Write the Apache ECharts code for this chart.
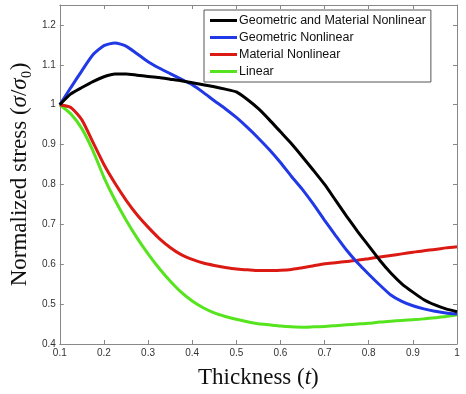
<!DOCTYPE html>
<html>
<head>
<meta charset="utf-8">
<script src="https://cdn.jsdelivr.net/npm/echarts@6/dist/echarts.min.js"></script>
<style>
  html, body { margin: 0; padding: 0; background: #fff; }
  #chart { width: 466px; height: 394px; }
</style>
</head>
<body>
<div id="chart"></div>
<script>
// thickness samples (x axis)
var thickness = [0.1, 0.125, 0.15, 0.175, 0.2, 0.225, 0.25, 0.275, 0.3, 0.325, 0.35, 0.375, 0.4,
  0.425, 0.45, 0.475, 0.5, 0.525, 0.55, 0.575, 0.6, 0.625, 0.65, 0.675, 0.7, 0.725, 0.75,
  0.775, 0.8, 0.825, 0.85, 0.875, 0.9, 0.925, 0.95, 0.975, 1.0];

var geoMatNonlinear = [1.0, 1.027, 1.043, 1.058, 1.07, 1.077, 1.077, 1.074, 1.071, 1.068, 1.064, 1.06, 1.055,
  1.05, 1.045, 1.039, 1.032, 1.013, 0.99, 0.962, 0.932, 0.902, 0.869, 0.835, 0.8, 0.76, 0.72,
  0.682, 0.646, 0.61, 0.578, 0.551, 0.53, 0.511, 0.498, 0.488, 0.481];
var geoNonlinear = [1.0, 1.043, 1.085, 1.125, 1.148, 1.155, 1.147, 1.128, 1.108, 1.092, 1.078, 1.064, 1.05,
  1.031, 1.01, 0.99, 0.968, 0.943, 0.916, 0.887, 0.855, 0.82, 0.787, 0.75, 0.71, 0.672, 0.635,
  0.603, 0.575, 0.548, 0.523, 0.507, 0.496, 0.488, 0.482, 0.478, 0.475];
var matNonlinear = [1.0, 0.993, 0.962, 0.906, 0.85, 0.803, 0.761, 0.724, 0.693, 0.665, 0.642, 0.624, 0.612,
  0.603, 0.597, 0.592, 0.588, 0.586, 0.584, 0.584, 0.585, 0.587, 0.591, 0.596, 0.601, 0.604, 0.607,
  0.61, 0.614, 0.618, 0.622, 0.626, 0.63, 0.634, 0.637, 0.641, 0.644];
var linear = [1.0, 0.977, 0.94, 0.885, 0.818, 0.761, 0.711, 0.666, 0.626, 0.59, 0.558, 0.53, 0.508,
  0.491, 0.478, 0.469, 0.462, 0.456, 0.451, 0.448, 0.445, 0.443, 0.442, 0.443, 0.444, 0.446, 0.448,
  0.45, 0.452, 0.455, 0.457, 0.459, 0.461, 0.463, 0.466, 0.469, 0.473];

var seriesNames = ["Geometric and Material Nonlinear", "Geometric Nonlinear", "Material Nonlinear", "Linear"];
var seriesValues = [geoMatNonlinear, geoNonlinear, matNonlinear, linear];
var colors = ["#000000", "#2038e6", "#dc1a14", "#55e41e"];

var chart = echarts.init(document.getElementById("chart"));

var series = [];
seriesNames.forEach(function (name, i) {
  series.push({
    name: name,
    type: "line",
    symbol: "none",
    smooth: 0.2,
    z: 10 - i,
    lineStyle: { color: colors[i], width: 3 },
    itemStyle: { color: colors[i] },
    data: thickness.map(function (t, k) { return [t, seriesValues[i][k]]; })
  });
});

var axisGray = "#888888";
var labelFont = { color: "#333", fontSize: 10, fontFamily: "Liberation Sans, Arial, sans-serif" };

chart.setOption({
  backgroundColor: "#ffffff",
  animation: false,
  grid: { left: 48, right: 9, top: 5, bottom: 40, containLabel: false },
  legend: {
    orient: "vertical",
    left: 204,
    top: 10,
    icon: "rect",
    itemWidth: 27,
    itemHeight: 3,
    itemGap: 2,
    padding: [3, 5, 3, 6],
    backgroundColor: "#fff",
    borderColor: "#555",
    borderWidth: 1,
    borderRadius: 0,
    textStyle: { color: "#111", fontSize: 12.5, lineHeight: 15, fontFamily: "Liberation Sans, Arial, sans-serif", padding: [0, 0, 0, -3] },
    data: seriesNames
  },
  xAxis: [
    {
      type: "value",
      min: 0.1,
      max: 1,
      interval: 0.1,
      name: "Thickness ({i|t})",
      nameLocation: "middle",
      nameGap: 22,
      nameTextStyle: {
        fontFamily: "Liberation Serif, serif",
        fontSize: 23,
        color: "#111",
        rich: { i: { fontStyle: "italic", fontFamily: "Liberation Serif, serif", fontSize: 23, color: "#111" } }
      },
      axisLine: { show: true, lineStyle: { color: axisGray, width: 1 } },
      axisTick: { show: true, inside: true, length: 4, lineStyle: { color: axisGray } },
      axisLabel: Object.assign({ margin: 4 }, labelFont),
      splitLine: { show: false }
    },
    {
      type: "value",
      position: "top",
      min: 0.1,
      max: 1,
      interval: 0.1,
      axisLine: { show: true, lineStyle: { color: axisGray, width: 1 } },
      axisTick: { show: true, inside: true, length: 4, lineStyle: { color: axisGray } },
      axisLabel: { show: false },
      splitLine: { show: false }
    }
  ],
  yAxis: [
    {
      type: "value",
      min: 0.4,
      max: 1.25,
      interval: 0.1,
      name: "Normalized stress ({i|σ}/{i|σ}₀)",
      nameLocation: "middle",
      nameGap: 24,
      nameTextStyle: {
        fontFamily: "Liberation Serif, serif",
        fontSize: 23,
        color: "#111",
        rich: { i: { fontStyle: "italic", fontFamily: "Liberation Serif, serif", fontSize: 23, color: "#111" } }
      },
      axisLine: { show: true, lineStyle: { color: axisGray, width: 1 } },
      axisTick: { show: true, inside: true, length: 4, lineStyle: { color: axisGray } },
      axisLabel: Object.assign({
        margin: 4,
        showMaxLabel: false,
        formatter: function (v) { return v > 1.21 ? "" : String(Math.round(v * 10) / 10); }
      }, labelFont),
      splitLine: { show: false }
    },
    {
      type: "value",
      position: "right",
      min: 0.4,
      max: 1.25,
      interval: 0.1,
      axisLine: { show: true, lineStyle: { color: axisGray, width: 1 } },
      axisTick: { show: true, inside: true, length: 4, lineStyle: { color: axisGray } },
      axisLabel: { show: false },
      splitLine: { show: false }
    }
  ],
  series: series
});
</script>
</body>
</html>
